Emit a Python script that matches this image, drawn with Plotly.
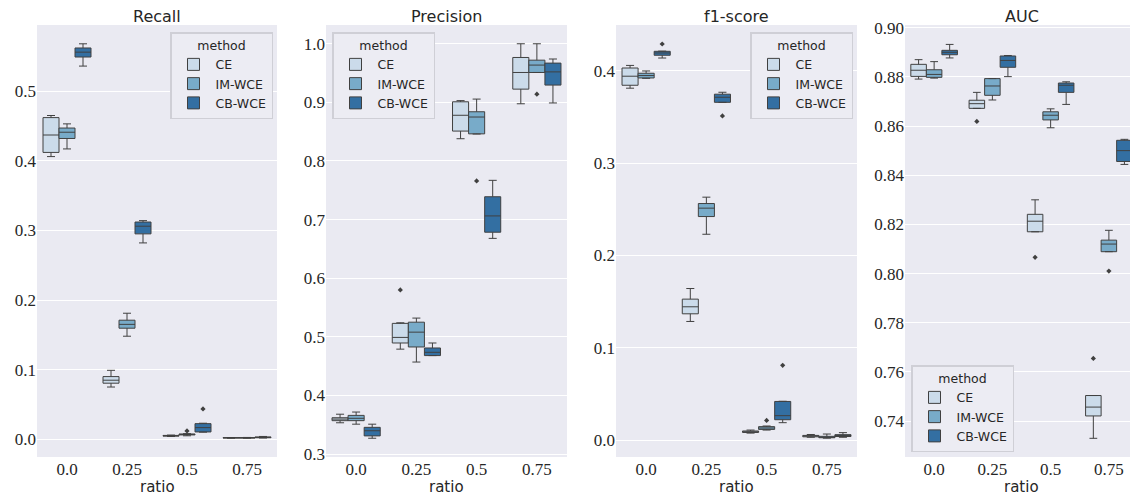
import plotly.graph_objects as go

# ---------------- data ----------------
RATIOS = ["0.0", "0.25", "0.5", "0.75"]
METHODS = ["CE", "IM-WCE", "CB-WCE"]
COLORS = ["#cbdbea", "#78abc9", "#336fa2"]
METRICS = ["Recall", "Precision", "f1-score", "AUC"]

# each stat: [method][ratio]
RECALL_LO = [[0.406, 0.075, 0.004, 0.0015], [0.417, 0.148, 0.005, 0.0015], [0.536, 0.282, 0.0102, 0.0018]]
RECALL_Q1 = [[0.412, 0.0805, 0.0045, 0.0018], [0.432, 0.1595, 0.0062, 0.0018], [0.549, 0.295, 0.0105, 0.0022]]
RECALL_MED = [[0.437, 0.0848, 0.005, 0.002], [0.441, 0.165, 0.007, 0.002], [0.556, 0.306, 0.0167, 0.0027]]
RECALL_Q3 = [[0.462, 0.090, 0.0055, 0.0023], [0.447, 0.171, 0.0075, 0.0023], [0.562, 0.312, 0.0224, 0.0033]]
RECALL_HI = [[0.465, 0.099, 0.006, 0.0025], [0.453, 0.181, 0.008, 0.0026], [0.568, 0.314, 0.023, 0.004]]
RECALL_OUT = [[], [(2, 0.012)], [(2, 0.0435)]]

PREC_LO = [[0.3534, 0.479, 0.838, 0.8976], [0.351, 0.457, 0.846, 0.951], [0.327, 0.468, 0.668, 0.899]]
PREC_Q1 = [[0.357, 0.4895, 0.851, 0.9226], [0.357, 0.4827, 0.8463, 0.951], [0.331, 0.468, 0.6785, 0.9295]]
PREC_MED = [[0.3597, 0.499, 0.878, 0.951], [0.361, 0.508, 0.875, 0.9636], [0.3398, 0.4736, 0.7063, 0.952]]
PREC_Q3 = [[0.362, 0.523, 0.901, 0.9766], [0.366, 0.525, 0.884, 0.972], [0.3456, 0.481, 0.739, 0.967]]
PREC_HI = [[0.368, 0.524, 0.903, 1.0], [0.3717, 0.532, 0.9056, 1.0], [0.351, 0.4895, 0.767, 0.974]]
PREC_OUT = [[(1, 0.58)], [(2, 0.766), (3, 0.914)], []]

F1_LO = [[0.3813, 0.1285, 0.0075, 0.003], [0.392, 0.223, 0.0108, 0.002], [0.414, 0.366, 0.0188, 0.003]]
F1_Q1 = [[0.3845, 0.1368, 0.0082, 0.0035], [0.3924, 0.2422, 0.0115, 0.0025], [0.417, 0.366, 0.0220, 0.0038]]
F1_MED = [[0.3943, 0.1444, 0.009, 0.0043], [0.395, 0.2513, 0.013, 0.003], [0.4195, 0.3715, 0.0264, 0.0048]]
F1_Q3 = [[0.4032, 0.1527, 0.0098, 0.005], [0.3975, 0.2563, 0.0145, 0.004], [0.4213, 0.3748, 0.0418, 0.0058]]
F1_HI = [[0.406, 0.1642, 0.0108, 0.006], [0.400, 0.2632, 0.0152, 0.0065], [0.4215, 0.3769, 0.042, 0.008]]
F1_OUT = [[], [(2, 0.0212)], [(0, 0.4292), (1, 0.3513), (2, 0.081)]]

AUC_LO = [[0.8791, 0.8672, 0.817, 0.733], [0.8795, 0.8706, 0.8593, 0.8089], [0.8877, 0.8801, 0.8688, 0.8444]]
AUC_Q1 = [[0.8802, 0.8672, 0.817, 0.7421], [0.8798, 0.8725, 0.8625, 0.8089], [0.889, 0.8839, 0.8737, 0.8456]]
AUC_MED = [[0.8827, 0.8691, 0.8213, 0.7457], [0.881, 0.8763, 0.8644, 0.812], [0.890, 0.8867, 0.8766, 0.85]]
AUC_Q3 = [[0.8851, 0.8705, 0.8241, 0.7504], [0.8829, 0.8793, 0.8658, 0.8136], [0.8908, 0.8885, 0.8775, 0.8542]]
AUC_HI = [[0.887, 0.8737, 0.830, 0.7504], [0.8862, 0.8793, 0.867, 0.8176], [0.8932, 0.8887, 0.878, 0.8546]]
AUC_OUT = [[(1, 0.8619), (2, 0.8066), (3, 0.7655)], [(3, 0.801)], []]

Y_RANGES = [[-0.0255, 0.595], [0.295, 1.032], [-0.0184, 0.4498], [0.7254, 0.9011]]
Y_TICKS = [[0.0, 0.1, 0.2, 0.3, 0.4, 0.5],
           [0.3, 0.4, 0.5, 0.6, 0.7, 0.8, 0.9, 1.0],
           [0.0, 0.1, 0.2, 0.3, 0.4],
           [0.74, 0.76, 0.78, 0.80, 0.82, 0.84, 0.86, 0.88, 0.90]]
Y_FMT = [".1f", ".1f", ".1f", ".2f"]

STATS = [
    (RECALL_LO, RECALL_Q1, RECALL_MED, RECALL_Q3, RECALL_HI, RECALL_OUT),
    (PREC_LO, PREC_Q1, PREC_MED, PREC_Q3, PREC_HI, PREC_OUT),
    (F1_LO, F1_Q1, F1_MED, F1_Q3, F1_HI, F1_OUT),
    (AUC_LO, AUC_Q1, AUC_MED, AUC_Q3, AUC_HI, AUC_OUT),
]

# ---------------- layout geometry ----------------
OFF = 8                     # page body margin of the browser
W, H = 1138 - OFF, 495 - OFF
X_PIX = [(37, 277), (326, 567), (616, 857), (905, 1138)]   # screen pixels
Y_TOP, Y_BOT = 25, 457
LEGEND_POS = [(170, 32, "top"), (332, 32, "top"), (750, 32, "top"), (911, 452, "bottom")]

def px(x):
    return (x - OFF) / W

def py(y):
    return (H - (y - OFF)) / H

BOXW = 0.8 / 3
LINE = "#404040"
TEXT = "#262626"
BG = "#eaeaf2"
TICKFONT = dict(family="Liberation Serif, DejaVu Serif, serif", size=17, color=TEXT)

fig = go.Figure()

for p in range(4):
    lo, q1, med, q3, hi, outs = STATS[p]
    xa = "x" if p == 0 else f"x{p+1}"
    ya = "y" if p == 0 else f"y{p+1}"
    leg = "legend" if p == 0 else f"legend{p+1}"
    for m in range(3):
        xs = [i + (m - 1) * BOXW for i in range(len(RATIOS))]
        fig.add_trace(go.Box(
            x=xs, q1=q1[m], median=med[m], q3=q3[m],
            lowerfence=lo[m], upperfence=hi[m],
            width=BOXW, whiskerwidth=0.5,
            fillcolor=COLORS[m], line=dict(color=LINE, width=1),
            boxpoints=False, name=METHODS[m],
            xaxis=xa, yaxis=ya, legend=leg, showlegend=True,
        ))
        if outs[m]:
            fig.add_trace(go.Scatter(
                x=[o[0] + (m - 1) * BOXW for o in outs[m]],
                y=[o[1] for o in outs[m]],
                mode="markers",
                marker=dict(symbol="diamond", size=4, color=LINE),
                xaxis=xa, yaxis=ya, showlegend=False, hoverinfo="y",
            ))

layout = dict(
    width=W, height=H,
    margin=dict(l=0, r=0, t=0, b=0),
    paper_bgcolor="white", plot_bgcolor=BG,
    font=dict(family="DejaVu Sans", color=TEXT, size=12),
    boxmode="overlay",
    annotations=[],
    template="none",
)

for p in range(4):
    sfx = "" if p == 0 else str(p + 1)
    x0, x1 = X_PIX[p]
    d0, d1 = px(x0), min(px(x1), 1.0)
    layout["xaxis" + sfx] = dict(
        domain=[d0, d1], anchor="y" + sfx,
        range=[-0.5, len(RATIOS) - 0.5],
        tickmode="array", tickvals=list(range(len(RATIOS))), ticktext=RATIOS,
        showgrid=False, zeroline=False, showline=False, ticks="",
        tickfont=TICKFONT, automargin=False,
    )
    layout["yaxis" + sfx] = dict(
        domain=[py(Y_BOT), py(Y_TOP)], anchor="x" + sfx,
        range=Y_RANGES[p],
        tickmode="array", tickvals=Y_TICKS[p],
        ticktext=[format(v, Y_FMT[p]) for v in Y_TICKS[p]],
        showgrid=True, gridcolor="white", gridwidth=1,
        zeroline=False, showline=False, ticks="",
        tickfont=TICKFONT, automargin=False,
    )
    cx = (d0 + d1) / 2
    layout["annotations"].append(dict(
        text=METRICS[p], x=cx, y=py(17),
        xref="paper", yref="paper", showarrow=False,
        xanchor="center", yanchor="middle",
        font=dict(family="DejaVu Sans", size=16, color=TEXT),
    ))
    layout["annotations"].append(dict(
        text="ratio", x=cx, y=py(487),
        xref="paper", yref="paper", showarrow=False,
        xanchor="center", yanchor="middle",
        font=dict(family="DejaVu Sans", size=15, color=TEXT),
    ))
    lx, ly, yanc = LEGEND_POS[p]
    layout["legend" + sfx] = dict(
        x=px(lx), y=py(ly), xanchor="left", yanchor=yanc,
        xref="paper", yref="paper",
        bgcolor="#ececf3", bordercolor="#cfcfd6", borderwidth=1.5,
        title=dict(text="method", side="top center",
                   font=dict(family="DejaVu Sans", size=12.5, color=TEXT)),
        font=dict(family="DejaVu Sans", size=12.5, color=TEXT),
        traceorder="normal", tracegroupgap=0, itemwidth=34,
    )

fig.update_layout(**layout)
fig.write_html("out.html")
